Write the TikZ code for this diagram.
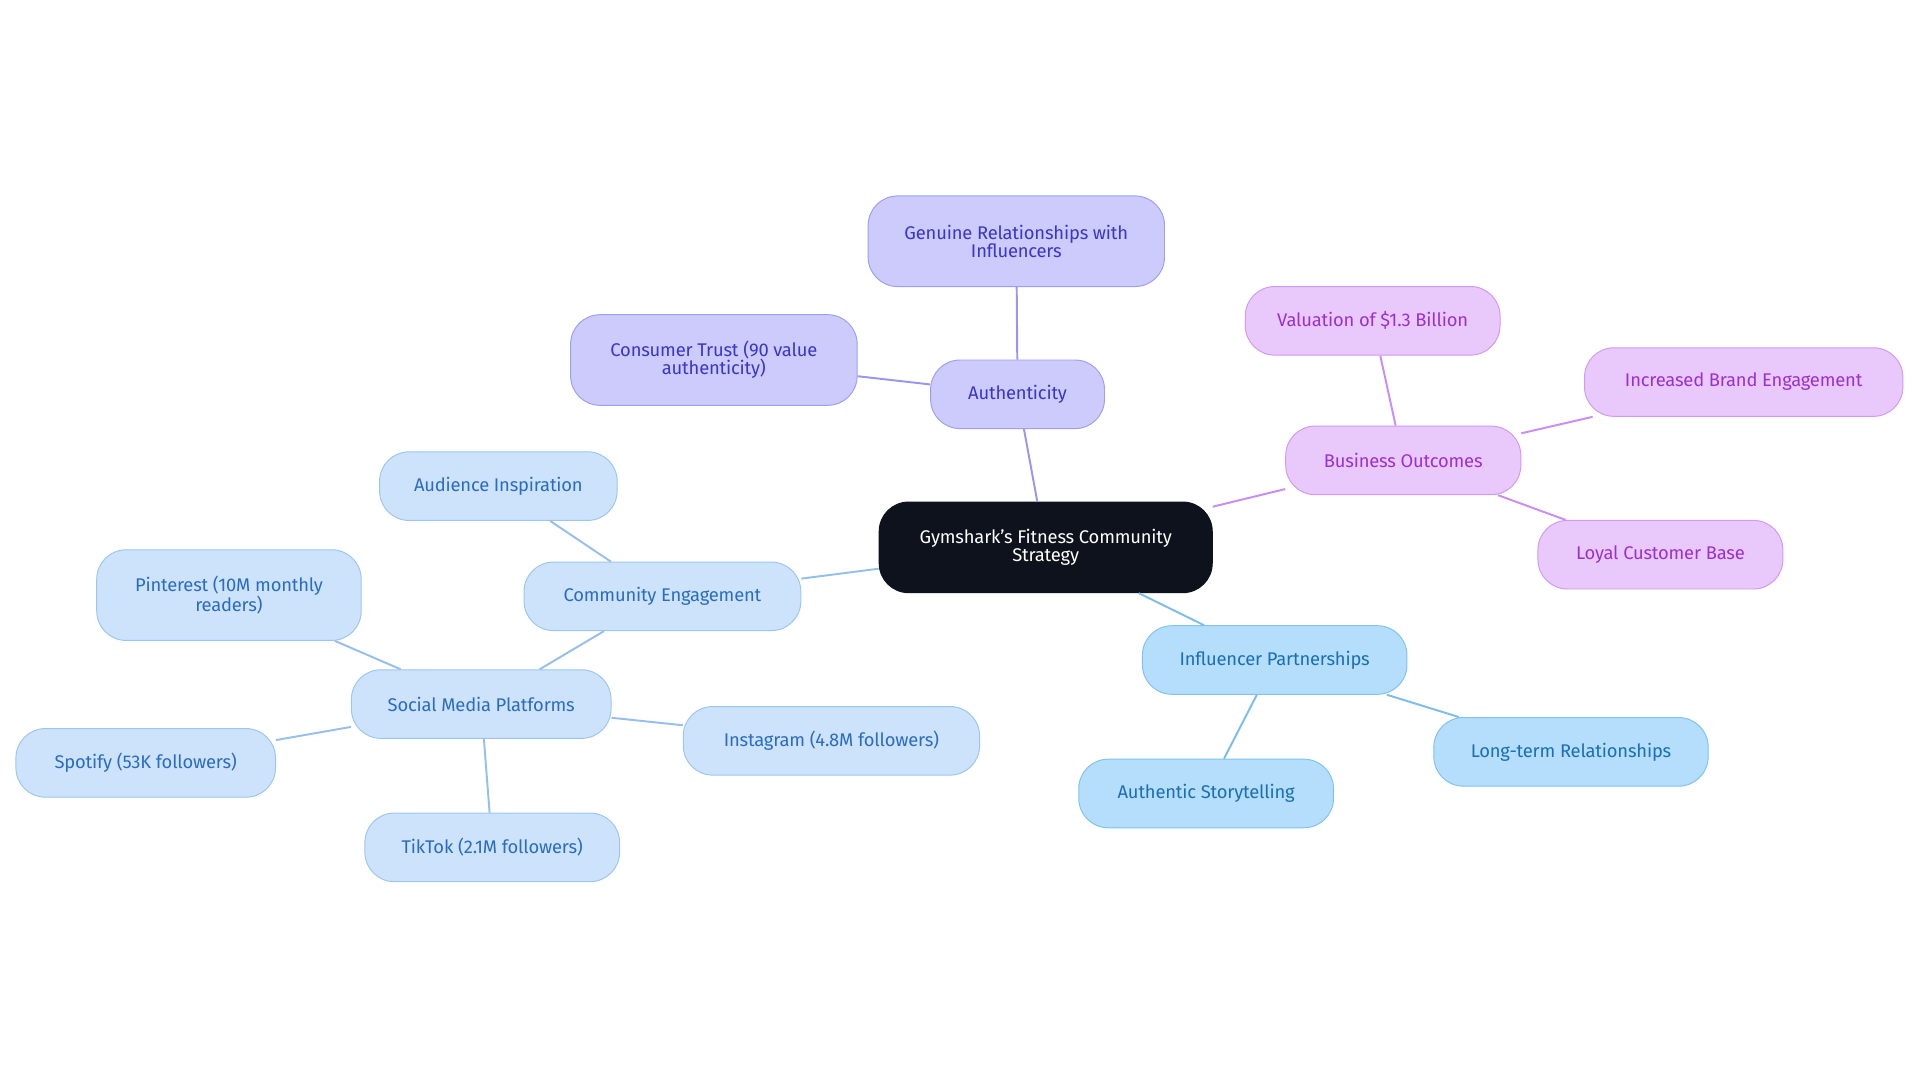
\documentclass[tikz,border=0pt]{standalone}
\usepackage{fontspec}
\setmainfont{Fira Sans}
\begin{document}
\begin{tikzpicture}[x=1pt,y=-1pt,
  base/.style={draw,line width=0.8pt,rounded corners=24pt,align=center,font=\fontsize{15}{15}\selectfont\addfontfeature{LetterSpace=-1}\fontseries{l}\selectfont,inner sep=0pt,minimum height=56pt},
  pu/.style={base,fill=pfill,draw=pdraw,text=ptext},
  mg/.style={base,fill=mfill,draw=mdraw,text=mtext},
  sk/.style={base,fill=sfill,draw=sdraw,text=stext},
  lb/.style={base,fill=lfill,draw=ldraw,text=ltext},
  pe/.style={draw=pline,line width=1.6pt},
  me/.style={draw=mline,line width=1.6pt},
  se/.style={draw=sline,line width=1.6pt},
  le/.style={draw=lline,line width=1.6pt}]
\definecolor{pfill}{HTML}{CCCBFC}\definecolor{pdraw}{HTML}{A09EF2}\definecolor{ptext}{HTML}{3B35C8}\definecolor{pline}{HTML}{9896F0}
\definecolor{mfill}{HTML}{E9C9FC}\definecolor{mdraw}{HTML}{D09AF2}\definecolor{mtext}{HTML}{9B30D0}\definecolor{mline}{HTML}{C98EF0}
\definecolor{sfill}{HTML}{B4DEFC}\definecolor{sdraw}{HTML}{80C2F0}\definecolor{stext}{HTML}{1A6FB5}\definecolor{sline}{HTML}{7EBDEB}
\definecolor{lfill}{HTML}{CDE3FB}\definecolor{ldraw}{HTML}{9CC6F2}\definecolor{ltext}{HTML}{2A6CC2}\definecolor{lline}{HTML}{96BFEE}
\definecolor{root}{HTML}{0D121C}
\useasboundingbox (0,0) rectangle (1568,884);
\begin{scope}[every node/.append style={}]
\node[base,fill=root,draw=root,text=white,minimum width=272pt,minimum height=74pt] (r) at (854,447) {Gymshark's Fitness Community\\Strategy};
\node[pu,minimum width=142pt] (au) at (831,322) {Authenticity};
\node[pu,minimum width=242pt,minimum height=74pt] (gr) at (830,197) {Genuine Relationships with\\Influencers};
\node[pu,minimum width=234pt,minimum height=74pt] (ct) at (583,294) {Consumer Trust (90 value\\authenticity)};
\node[mg,minimum width=192pt] (bo) at (1146,376) {Business Outcomes};
\node[mg,minimum width=208pt] (va) at (1121,262) {Valuation of \$1.3 Billion};
\node[mg,minimum width=260pt] (ib) at (1424,312) {Increased Brand Engagement};
\node[mg,minimum width=200pt] (lc) at (1356,453) {Loyal Customer Base};
\node[sk,minimum width=216pt] (ip) at (1041,539) {Influencer Partnerships};
\node[sk,minimum width=224pt] (lt) at (1283,614) {Long-term Relationships};
\node[sk,minimum width=208pt] (as) at (985,648) {Authentic Storytelling};
\node[lb,minimum width=226pt] (ce) at (541,487) {Community Engagement};
\node[lb,minimum width=194pt] (ai) at (407,397) {Audience Inspiration};
\node[lb,minimum width=212pt] (sm) at (393,575) {Social Media Platforms};
\node[lb,minimum width=216pt,minimum height=74pt] (pi) at (187,486) {Pinterest (10M monthly\\readers)};
\node[lb,minimum width=212pt] (sp) at (119,623) {Spotify (53K followers)};
\node[lb,minimum width=208pt] (tt) at (402,692) {TikTok (2.1M followers)};
\node[lb,minimum width=242pt] (ig) at (679,605) {Instagram (4.8M followers)};
\end{scope}
\begin{scope}[on background layer/.style={}]
\end{scope}
\path[pe] (r) -- (au); \path[pe] (au) -- (gr); \path[pe] (au) -- (ct);
\path[me] (r) -- (bo); \path[me] (bo) -- (va); \path[me] (bo) -- (ib); \path[me] (bo) -- (lc);
\path[se] (r) -- (ip); \path[se] (ip) -- (lt); \path[se] (ip) -- (as);
\path[le] (r) -- (ce); \path[le] (ce) -- (ai); \path[le] (ce) -- (sm);
\path[le] (sm) -- (pi); \path[le] (sm) -- (sp); \path[le] (sm) -- (tt); \path[le] (sm) -- (ig);
\end{tikzpicture}
\end{document}
